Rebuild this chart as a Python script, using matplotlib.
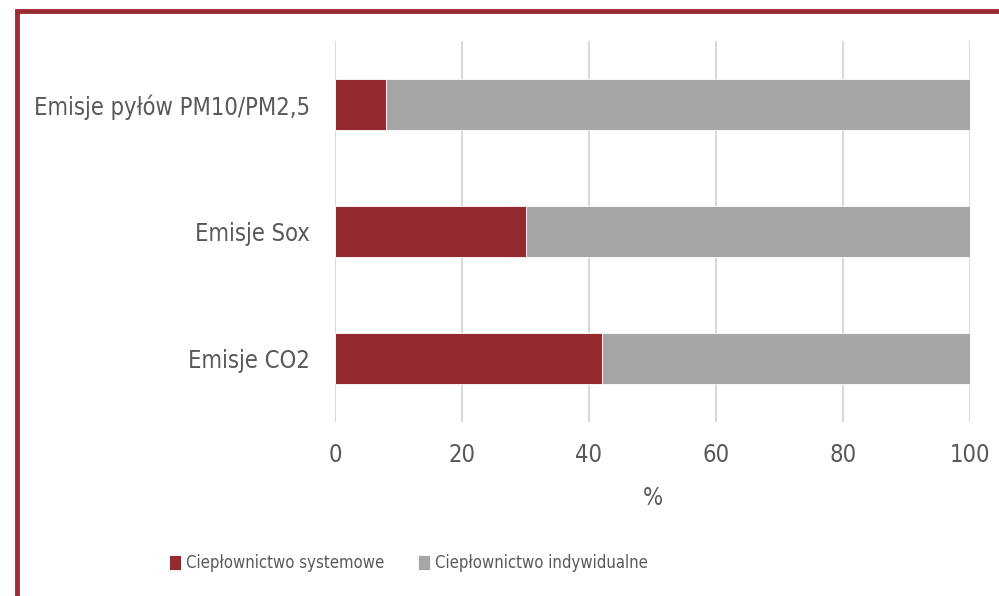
import matplotlib
matplotlib.use("Agg")
import matplotlib.pyplot as plt
from matplotlib.patches import Rectangle
from matplotlib import font_manager as fm

categories = ["Emisje pyłów PM10/PM2,5", "Emisje Sox", "Emisje CO2"]
systemowe = [8, 30, 42]
indywidualne = [92, 70, 58]
series_names = ["Ciepłownictwo systemowe", "Ciepłownictwo indywidualne"]
xticks = [0, 20, 40, 60, 80, 100]

# pick a condensed / narrow font if one is installed
cand = None
prefs = ["LiberationSansNarrow-Regular", "DejaVuSansCondensed.ttf", "Roboto_Condensed", "RobotoCondensed-Regular",
         "OpenSans_Condensed", "OpenSans-CondensedRegular"]
files = sorted(f.fname for f in fm.fontManager.ttflist)
for p in prefs:
    for f in files:
        if p.lower() in f.lower():
            cand = f
            break
    if cand:
        break
if cand is None:
    for f in files:
        low = f.lower()
        if ("condensed" in low or "narrow" in low) and "bold" not in low and "oblique" not in low and "italic" not in low and "light" not in low:
            cand = f
            break

def fp(size):
    if cand:
        return fm.FontProperties(fname=cand, size=size)
    return fm.FontProperties(family="DejaVu Sans", size=size - 3)

FP = fp(17)
FPL = fp(12)

RED = "#962a31"
GREY = "#a6a6a6"
TXT = "#595959"

fig = plt.figure(figsize=(9.99, 5.96), dpi=100)
ax = fig.add_axes([335/999, 1-422/596, (970-335)/999, 381/596])

y = list(range(len(categories)))
ax.barh(y, systemowe, height=0.4, color=RED, edgecolor="white", linewidth=0.6, label=series_names[0], zorder=3)
ax.barh(y, indywidualne, left=systemowe, height=0.4, color=GREY, edgecolor="white", linewidth=0.6, label=series_names[1], zorder=3)

ax.set_ylim(2.5, -0.5)
ax.set_xlim(0, 100)
ax.set_xticks(xticks)
ax.set_xticklabels([str(t) for t in xticks], fontproperties=FP, color=TXT)
ax.set_yticks(y)
ax.set_yticklabels(categories, fontproperties=FP, color=TXT)
ax.grid(axis="x", color="#d9d9d9", linewidth=1.5, zorder=0)
for s in ax.spines.values():
    s.set_visible(False)
ax.tick_params(axis="both", length=0)
ax.tick_params(axis="x", pad=15)
ax.tick_params(axis="y", pad=18)
ax.set_xlabel("%", fontproperties=FP, color=TXT, labelpad=14)

leg = fig.legend(loc="center", bbox_to_anchor=(0.409, 1-563/596), ncol=2, frameon=False,
                 prop=FPL, labelcolor=TXT, handlelength=0.75, handleheight=1.0,
                 handletextpad=0.3, columnspacing=2.0)

fig.patches.append(Rectangle((17/999, -0.2), 1.5, 1.2 - 11/596, transform=fig.transFigure,
                             fill=False, edgecolor="#9b2c35", linewidth=3.5, zorder=10))

fig.savefig("out.png", dpi=100)
